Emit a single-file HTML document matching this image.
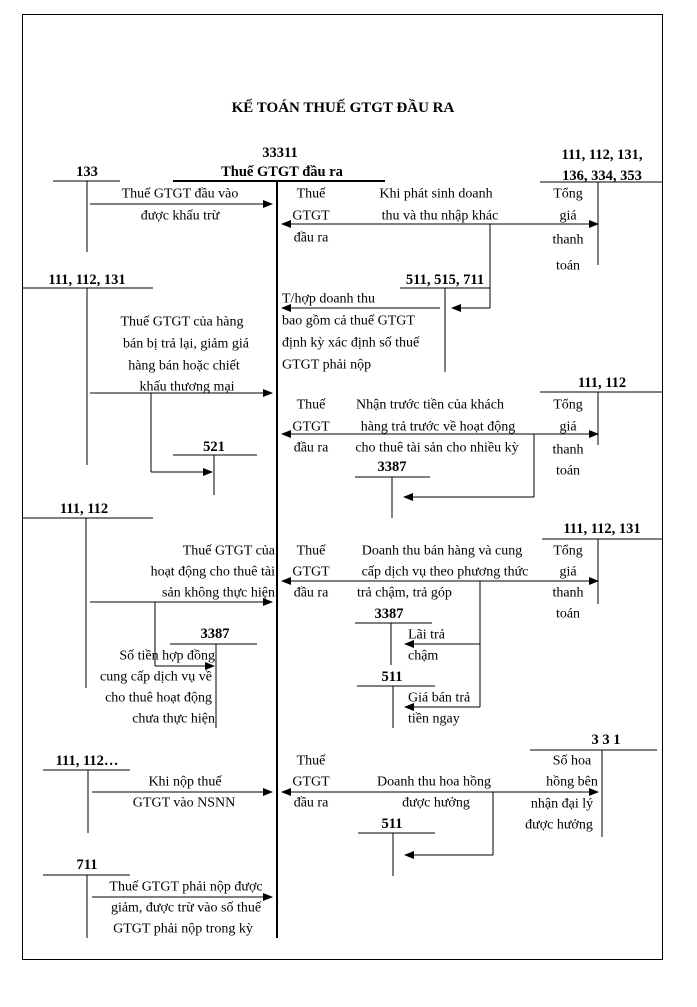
<!DOCTYPE html>
<html><head><meta charset="utf-8"><style>
html,body{margin:0;padding:0;background:#fff}
svg{display:block}
text{font-family:"Liberation Serif",serif;font-size:14px;fill:#000;dominant-baseline:central}
.b{font-weight:bold;font-size:14.5px}
.m{text-anchor:middle}
.e{text-anchor:end}
line{stroke:#000;stroke-width:1}
</style></head><body>
<svg width="697" height="1007" viewBox="0 0 697 1007" xmlns="http://www.w3.org/2000/svg">
<defs>
<marker id="a" markerWidth="10" markerHeight="8" refX="9" refY="4" orient="auto-start-reverse" markerUnits="userSpaceOnUse">
<path d="M0,0 L10,4 L0,8 z" fill="#000"/></marker>
</defs>
<rect x="22.5" y="14.5" width="640" height="945" fill="none" stroke="#000"/>
<text class="b m" x="343" y="108" style="font-size:15px">KẾ TOÁN THUẾ GTGT ĐẦU RA</text>
<!-- central T -->
<text class="b m" x="280" y="153">33311</text>
<text class="b m" x="282" y="172">Thuế GTGT đầu ra</text>
<line x1="173" y1="181" x2="385" y2="181" style="stroke-width:2"/>
<line x1="277" y1="181" x2="277" y2="938" style="stroke-width:2"/>

<!-- 133 -->
<text class="b m" x="87" y="172">133</text>
<line x1="53" y1="181" x2="120" y2="181"/>
<line x1="87" y1="181" x2="87" y2="252"/>
<line x1="90" y1="204" x2="272" y2="204" marker-end="url(#a)"/>
<text class="m" x="180" y="194">Thuế GTGT đầu vào</text>
<text class="m" x="180" y="216">được khấu trừ</text>

<!-- right 111 top -->
<text class="b m" x="602" y="155">111, 112, 131,</text>
<text class="b m" x="602" y="176">136, 334, 353</text>
<line x1="540" y1="182" x2="662" y2="182"/>
<line x1="598" y1="182" x2="598" y2="265"/>
<line x1="282" y1="224" x2="598" y2="224" marker-start="url(#a)" marker-end="url(#a)"/>
<text class="m" x="311" y="194">Thuế</text><text class="m" x="311" y="216">GTGT</text><text class="m" x="311" y="238">đầu ra</text>
<text class="m" x="436" y="194">Khi phát sinh doanh</text>
<text class="m" x="440" y="216">thu và thu nhập khác</text>
<text class="m" x="568" y="194">Tổng</text><text class="m" x="568" y="216">giá</text><text class="m" x="568" y="240">thanh</text><text class="m" x="568" y="266">toán</text>
<line x1="490" y1="224" x2="490" y2="308"/>
<line x1="490" y1="308" x2="452" y2="308" marker-end="url(#a)"/>
<text class="b m" x="445" y="280">511, 515, 711</text>
<line x1="400" y1="288" x2="490" y2="288"/>
<line x1="445" y1="288" x2="445" y2="372"/>
<line x1="440" y1="308" x2="282" y2="308" marker-end="url(#a)"/>
<text x="282" y="299">T/hợp doanh thu</text>
<text x="282" y="321">bao gồm cả thuế GTGT</text>
<text x="282" y="343">định kỳ xác định số thuế</text>
<text x="282" y="365">GTGT phải nộp</text>

<!-- 111,112,131 left -->
<text class="b m" x="87" y="280">111, 112, 131</text>
<line x1="22" y1="288" x2="153" y2="288"/>
<line x1="87" y1="288" x2="87" y2="465"/>
<text class="m" x="182" y="322">Thuế GTGT của hàng</text>
<text class="m" x="186" y="344">bán bị trả lại, giảm giá</text>
<text class="m" x="184" y="366">hàng bán hoặc chiết</text>
<text class="m" x="187" y="387">khấu thương mại</text>
<line x1="90" y1="393" x2="272" y2="393" marker-end="url(#a)"/>
<line x1="151" y1="393" x2="151" y2="472"/>
<line x1="151" y1="472" x2="212" y2="472" marker-end="url(#a)"/>
<text class="b m" x="214" y="447">521</text>
<line x1="173" y1="455" x2="257" y2="455"/>
<line x1="214" y1="455" x2="214" y2="495"/>

<!-- 111,112 right -->
<text class="b m" x="602" y="383">111, 112</text>
<line x1="540" y1="392" x2="662" y2="392"/>
<line x1="598" y1="392" x2="598" y2="445"/>
<text class="m" x="311" y="405">Thuế</text><text class="m" x="311" y="427">GTGT</text><text class="m" x="311" y="448">đầu ra</text>
<text class="m" x="430" y="405">Nhận trước tiền của khách</text>
<text class="m" x="438" y="427">hàng trả trước về hoạt động</text>
<text class="m" x="437" y="448">cho thuê tài sản cho nhiều kỳ</text>
<text class="m" x="568" y="405">Tổng</text><text class="m" x="568" y="427">giá</text><text class="m" x="568" y="450">thanh</text><text class="m" x="568" y="471">toán</text>
<line x1="282" y1="434" x2="598" y2="434" marker-start="url(#a)" marker-end="url(#a)"/>
<line x1="534" y1="434" x2="534" y2="497"/>
<line x1="534" y1="497" x2="404" y2="497" marker-end="url(#a)"/>
<text class="b m" x="392" y="467">3387</text>
<line x1="355" y1="477" x2="430" y2="477"/>
<line x1="392" y1="477" x2="392" y2="518"/>

<!-- 111,112 left -->
<text class="b m" x="84" y="509">111, 112</text>
<line x1="22" y1="518" x2="153" y2="518"/>
<line x1="86" y1="518" x2="86" y2="688"/>
<text class="e" x="275" y="551">Thuế GTGT của</text>
<text class="e" x="275" y="572">hoạt động cho thuê tài</text>
<text class="e" x="275" y="593">sản không thực hiện</text>
<line x1="90" y1="602" x2="272" y2="602" marker-end="url(#a)"/>
<line x1="155" y1="602" x2="155" y2="666"/>
<line x1="155" y1="666" x2="214" y2="666" marker-end="url(#a)"/>
<text class="b m" x="215" y="634">3387</text>
<line x1="170" y1="644" x2="257" y2="644"/>
<line x1="216" y1="644" x2="216" y2="728"/>
<text class="e" x="215" y="656">Số tiền hợp đồng</text>
<text class="e" x="212" y="677">cung cấp dịch vụ về</text>
<text class="e" x="212" y="698">cho thuê hoạt động</text>
<text class="e" x="215" y="719">chưa thực hiện</text>

<!-- 111,112,131 right -->
<text class="b m" x="602" y="529">111, 112, 131</text>
<line x1="542" y1="539" x2="662" y2="539"/>
<line x1="598" y1="539" x2="598" y2="604"/>
<text class="m" x="311" y="551">Thuế</text><text class="m" x="311" y="572">GTGT</text><text class="m" x="311" y="593">đầu ra</text>
<text class="m" x="442" y="551">Doanh thu bán hàng và cung</text>
<text class="m" x="445" y="572">cấp dịch vụ theo phương thức</text>
<text x="357" y="593">trả chậm, trả góp</text>
<text class="m" x="568" y="551">Tổng</text><text class="m" x="568" y="572">giá</text><text class="m" x="568" y="593">thanh</text><text class="m" x="568" y="614">toán</text>
<line x1="282" y1="581" x2="598" y2="581" marker-start="url(#a)" marker-end="url(#a)"/>
<line x1="480" y1="581" x2="480" y2="707"/>
<line x1="480" y1="644" x2="405" y2="644" marker-end="url(#a)"/>
<line x1="480" y1="707" x2="405" y2="707" marker-end="url(#a)"/>
<text class="b m" x="389" y="614">3387</text>
<line x1="355" y1="623" x2="432" y2="623"/>
<line x1="391" y1="623" x2="391" y2="665"/>
<text x="408" y="635">Lãi trả</text>
<text x="408" y="656">chậm</text>
<text class="b m" x="392" y="677">511</text>
<line x1="357" y1="686" x2="435" y2="686"/>
<line x1="393" y1="686" x2="393" y2="728"/>
<text x="408" y="698">Giá bán trả</text>
<text x="408" y="719">tiền ngay</text>

<!-- 331 -->
<text class="b m" x="606" y="740">3 3 1</text>
<line x1="530" y1="750" x2="657" y2="750"/>
<line x1="602" y1="750" x2="602" y2="837"/>
<text class="m" x="572" y="761">Số hoa</text>
<text class="m" x="572" y="782">hồng bên</text>
<text class="m" x="562" y="804">nhận đại lý</text>
<text class="m" x="559" y="825">được hưởng</text>

<!-- 111,112... -->
<text class="b m" x="87" y="761">111, 112…</text>
<line x1="43" y1="770" x2="130" y2="770"/>
<line x1="88" y1="770" x2="88" y2="833"/>
<text class="m" x="185" y="782">Khi nộp thuế</text>
<text class="m" x="184" y="803">GTGT vào NSNN</text>
<line x1="92" y1="792" x2="272" y2="792" marker-end="url(#a)"/>
<text class="m" x="311" y="761">Thuế</text><text class="m" x="311" y="782">GTGT</text><text class="m" x="311" y="803">đầu ra</text>
<text class="m" x="434" y="782">Doanh thu hoa hồng</text>
<text class="m" x="436" y="803">được hưởng</text>
<line x1="282" y1="792" x2="598" y2="792" marker-start="url(#a)" marker-end="url(#a)"/>
<line x1="493" y1="792" x2="493" y2="855"/>
<line x1="493" y1="855" x2="405" y2="855" marker-end="url(#a)"/>
<text class="b m" x="392" y="824">511</text>
<line x1="358" y1="833" x2="435" y2="833"/>
<line x1="393" y1="833" x2="393" y2="876"/>

<!-- 711 -->
<text class="b m" x="87" y="865">711</text>
<line x1="43" y1="875" x2="130" y2="875"/>
<line x1="87" y1="875" x2="87" y2="938"/>
<text class="m" x="186" y="887">Thuế GTGT phải nộp được</text>
<text class="m" x="186" y="908">giảm, được trừ vào số thuế</text>
<text class="m" x="183" y="929">GTGT phải nộp trong kỳ</text>
<line x1="92" y1="897" x2="272" y2="897" marker-end="url(#a)"/>
</svg>
</body></html>
